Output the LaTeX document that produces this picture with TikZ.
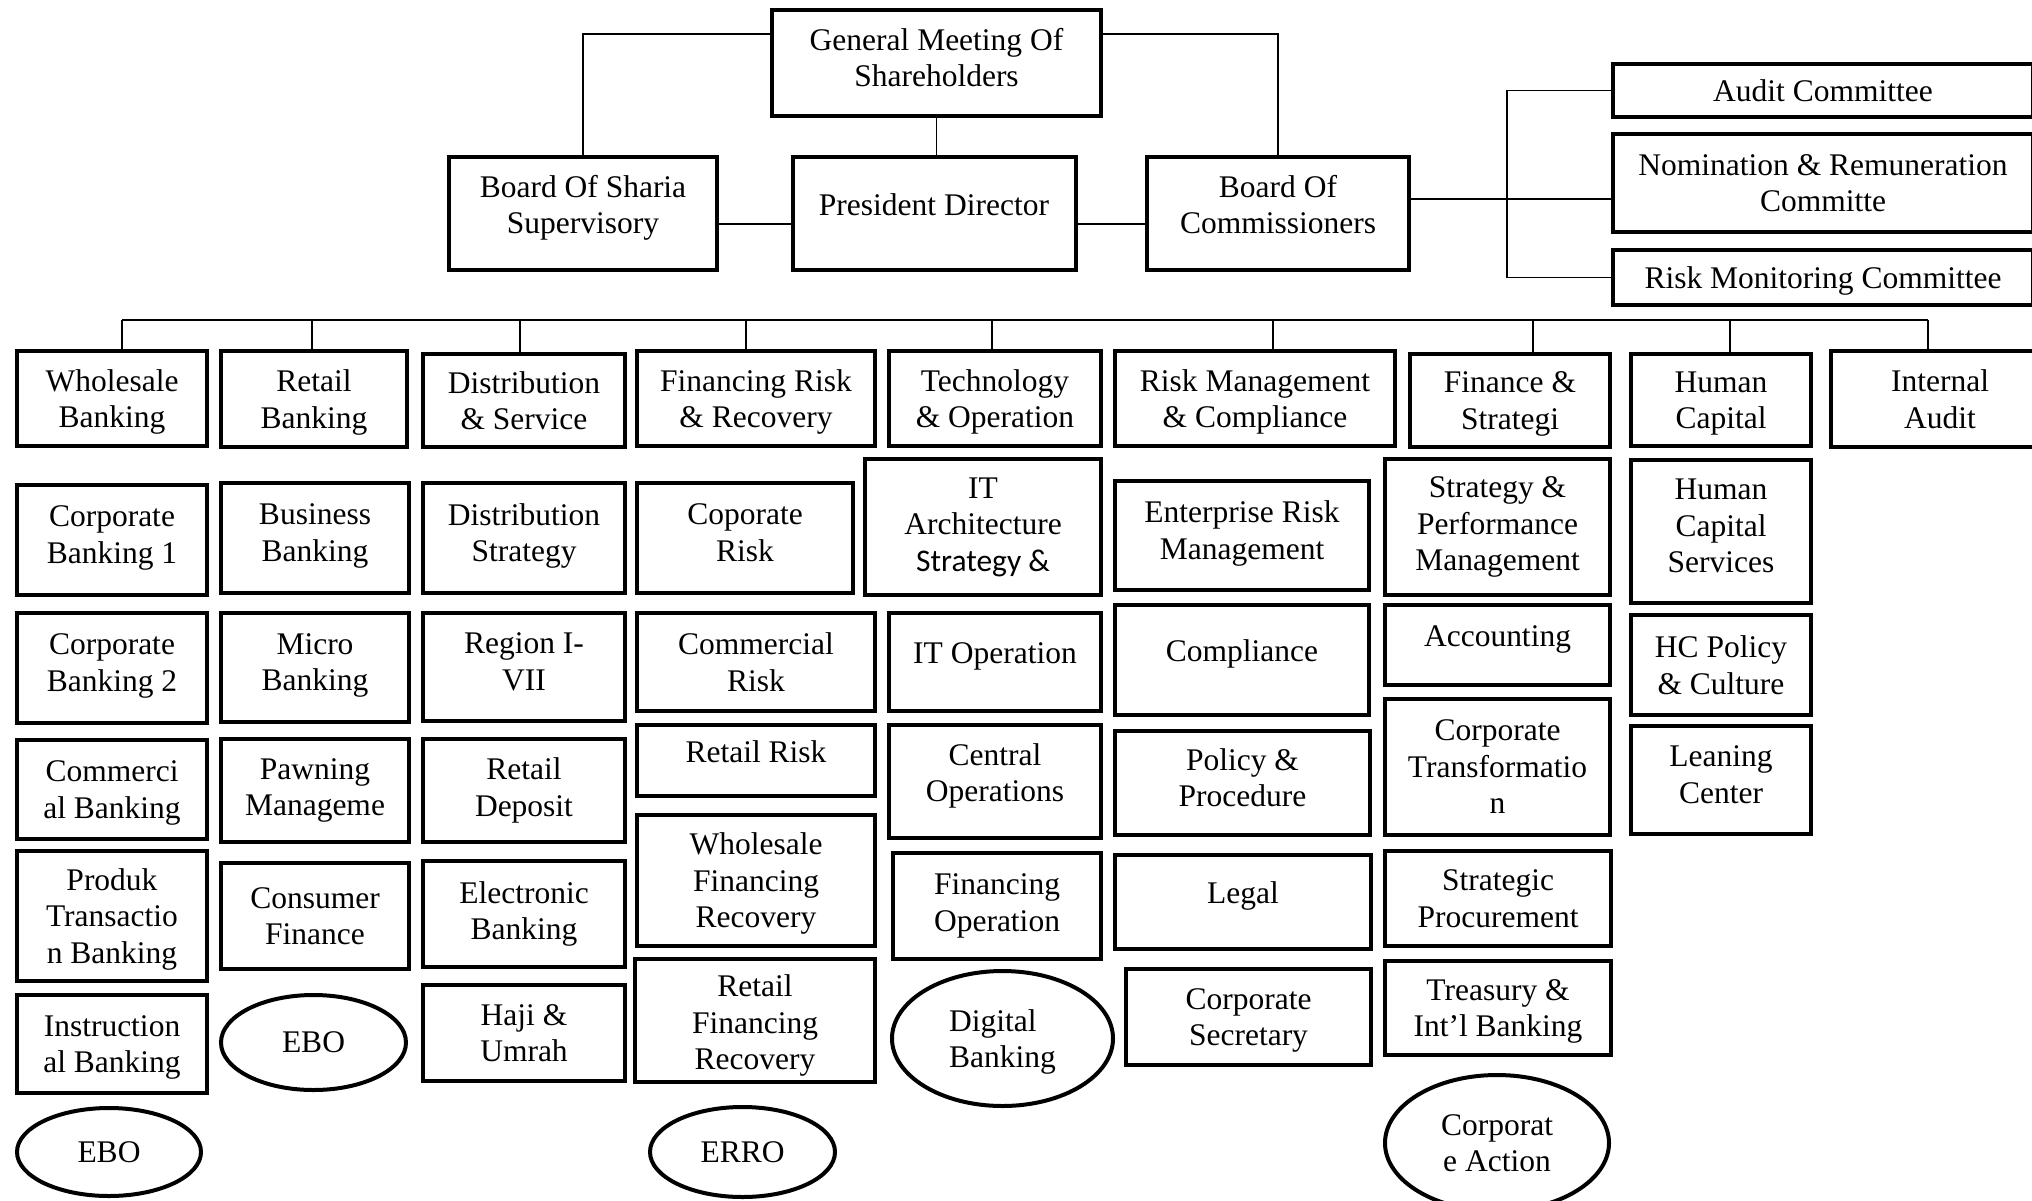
\documentclass[tikz,border=0pt]{standalone}
\usepackage{fontspec}
\setmainfont{Liberation Serif}
\newfontfamily\sansfont{Carlito}
\usetikzlibrary{shapes.geometric}

\begin{document}
\begin{tikzpicture}[x=1pt,y=-1pt,
  box/.style={draw,line width=4pt,align=center,inner sep=0pt,
    font=\fontsize{31.5}{36.5}\selectfont},
  dept/.style={box,text depth=0pt},
  unit/.style={box},
  raised/.style={text depth=18pt},
  lift/.style={text depth=11pt},
  sink/.style={text depth=0pt},
  oval/.style={box,ellipse},
  link/.style={line width=1.6pt}]
  \path[use as bounding box,fill=white] (0,0) rectangle (2032,1200);

  \node[unit,lift,minimum width=329,minimum height=106] (gms) at (936.5,63) {General Meeting Of\\Shareholders};
  \node[unit,raised,minimum width=268,minimum height=113] (bss) at (583,213.5) {Board Of Sharia\\Supervisory};
  \node[unit,raised,minimum width=283,minimum height=113] (pd) at (934,213.5) {President Director};
  \node[unit,raised,minimum width=262,minimum height=113] (boc) at (1278,213.5) {Board Of\\Commissioners};
  \node[dept,minimum width=420,minimum height=53] (ac) at (1823,90.5) {Audit Committee};
  \node[dept,minimum width=420,minimum height=98] (nrc) at (1823,183) {Nomination \& Remuneration\\Committe};
  \node[dept,minimum width=420,minimum height=55] (rmc) at (1823,277.5) {Risk Monitoring Committee};

  \draw[link] ([yshift=-26pt]gms.north west) -| (bss.north);
  \draw[link] ([yshift=-26pt]gms.north east) -| (boc.north);
  \draw[link] (gms.south) -- (gms.south |- pd.north);
  \draw[link] ([yshift=-10.5pt]bss.east) -- ([yshift=-10.5pt]pd.west);
  \draw[link] ([yshift=-10.5pt]pd.east) -- ([yshift=-10.5pt]boc.west);
  \coordinate (cbus) at (1507,0);
  \draw[link] (ac.west) -| (cbus |- rmc.west) -- (rmc.west);
  \draw[link] ([yshift=14.5pt]boc.east) -- ([yshift=14.5pt]boc.east -| nrc.west);

  \node[dept,minimum width=190,minimum height=95] (wholesale) at (112,398.5) {Wholesale\\Banking};
  \node[dept,minimum width=186,minimum height=96] (retail) at (314,399) {Retail\\Banking};
  \node[dept,minimum width=202,minimum height=93] (distrib) at (524,400.5) {Distribution\\\& Service};
  \node[dept,minimum width=238,minimum height=95] (finrisk) at (756,398.5) {Financing Risk\\\& Recovery};
  \node[dept,minimum width=212,minimum height=95] (techop) at (995,398.5) {Technology\\\& Operation};
  \node[dept,minimum width=280,minimum height=95] (riskmgmt) at (1255,398.5) {Risk Management\\\& Compliance};
  \node[dept,minimum width=200,minimum height=93] (finance) at (1510,400.5) {Finance \&\\Strategi};
  \node[dept,minimum width=180,minimum height=92] (humancap) at (1721,400) {Human\\Capital};
  \node[dept,minimum width=218,minimum height=96] (intaudit) at (1940,399) {Internal\\Audit};

  \coordinate (bus) at (0,320);
  \draw[link] ([xshift=10pt]wholesale.north |- bus) -- ([xshift=-12pt]intaudit.north |- bus);
  \foreach \n/\dx in {wholesale/10,retail/-2,distrib/-4,finrisk/-10,techop/-3,riskmgmt/18,finance/23,humancap/9,intaudit/-12}
    \draw[link] ([xshift=\dx pt]\n.north) -- ([xshift=\dx pt]\n.north |- bus);

  \node[unit,lift,minimum width=190,minimum height=110] (corpbank1) at (112,540) {Corporate\\Banking 1};
  \node[unit,lift,minimum width=190,minimum height=110] (corpbank2) at (112,668) {Corporate\\Banking 2};
  \node[unit,sink,minimum width=190,minimum height=99] (commbank) at (112,789.5) {Commerci\\al Banking};
  \node[unit,sink,minimum width=190,minimum height=130] (prodtrans) at (112,916) {Produk\\Transactio\\n Banking};
  \node[unit,sink,minimum width=190,minimum height=98] (instbank) at (112,1044) {Instruction\\al Banking};
  \node[oval,minimum width=184,minimum height=88] (ebowb) at (109,1152) {EBO};

  \node[unit,lift,minimum width=188,minimum height=110] (busbank) at (315,538) {Business\\Banking};
  \node[unit,lift,minimum width=188,minimum height=109] (microbank) at (315,667.5) {Micro\\Banking};
  \node[unit,minimum width=188,minimum height=103] (pawning) at (315,790.5) {Pawning\\Manageme};
  \node[unit,minimum width=188,minimum height=106] (consfin) at (315,916) {Consumer\\Finance};
  \node[oval,minimum width=185,minimum height=95] (eborb) at (313.5,1042.5) {EBO};

  \node[unit,lift,minimum width=202,minimum height=110] (diststrat) at (524,538) {Distribution\\Strategy};
  \node[unit,lift,minimum width=202,minimum height=108] (region) at (524,667) {Region I-\\VII};
  \node[unit,minimum width=202,minimum height=103] (retdep) at (524,790.5) {Retail\\Deposit};
  \node[unit,minimum width=202,minimum height=106] (ebank) at (524,914) {Electronic\\Banking};
  \node[unit,minimum width=202,minimum height=96] (haji) at (524,1033) {Haji \&\\Umrah};

  \node[unit,lift,minimum width=216,minimum height=110] (corprisk) at (745,538) {Coporate\\Risk};
  \node[unit,minimum width=238,minimum height=98] (commrisk) at (756,662) {Commercial\\Risk};
  \node[unit,raised,minimum width=238,minimum height=71] (retrisk) at (756,760.5) {Retail Risk};
  \node[unit,sink,minimum width=238,minimum height=131] (wfr) at (756,880.5) {Wholesale\\Financing\\Recovery};
  \node[unit,sink,text height=98pt,minimum width=240,minimum height=123] (rfr) at (755,1020.5) {Retail\\Financing\\Recovery};
  \node[oval,minimum width=185,minimum height=90] (erro) at (742.5,1152) {ERRO};

  \node[unit,minimum width=236,minimum height=136] (itarch) at (983,527) {IT\\Architecture\\{\sansfont Strategy \&}};
  \node[unit,raised,minimum width=212,minimum height=98] (itop) at (995,662) {IT Operation};
  \node[unit,raised,minimum width=212,minimum height=113] (centralop) at (995,781.5) {Central\\Operations};
  \node[unit,minimum width=208,minimum height=106] (finop) at (997,906) {Financing\\Operation};
  \node[oval,sink,align=left,minimum width=221,minimum height=135] (digbank) at (1002.5,1038.5) {Digital\\Banking};

  \node[unit,lift,minimum width=254,minimum height=109] (erm) at (1242,535.5) {Enterprise Risk\\Management};
  \node[unit,raised,minimum width=254,minimum height=110] (compl) at (1242,660) {Compliance};
  \node[unit,lift,minimum width=255,minimum height=104] (policy) at (1242.5,783) {Policy \&\\Procedure};
  \node[unit,raised,minimum width=256,minimum height=94] (legal) at (1243,902) {Legal};
  \node[unit,sink,minimum width=245,minimum height=96] (corpsec) at (1248.5,1017) {Corporate\\Secretary};

  \node[unit,minimum width=225,minimum height=136] (spm) at (1497.5,527) {Strategy \&\\Performance\\Management};
  \node[unit,raised,minimum width=225,minimum height=80] (accounting) at (1497.5,645) {Accounting};
  \node[unit,minimum width=225,minimum height=136] (corptrans) at (1497.5,767) {Corporate\\Transformatio\\n};
  \node[unit,minimum width=226,minimum height=95] (stratproc) at (1498,898.5) {Strategic\\Procurement};
  \node[unit,sink,minimum width=226,minimum height=94] (treasury) at (1498,1008) {Treasury \&\\Int’l Banking};
  \node[oval,minimum width=224,minimum height=136] (corpaction) at (1497,1143) {Corporat\\e Action};

  \node[unit,lift,minimum width=180,minimum height=143] (hcserv) at (1721,531.5) {Human\\Capital\\Services};
  \node[unit,minimum width=180,minimum height=100] (hcpolicy) at (1721,665) {HC Policy\\\& Culture};
  \node[unit,lift,minimum width=180,minimum height=108] (leaning) at (1721,780) {Leaning\\Center};
\end{tikzpicture}
\end{document}
